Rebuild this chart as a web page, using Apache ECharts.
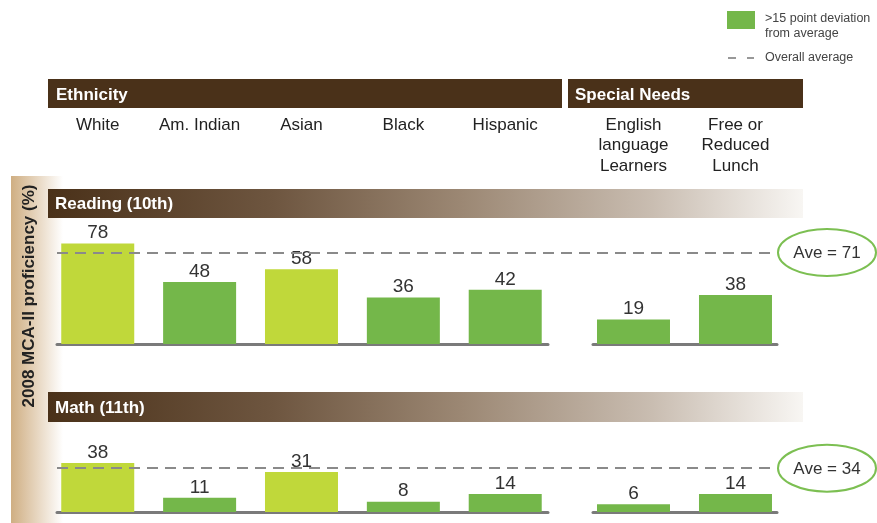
<!DOCTYPE html>
<html><head><meta charset="utf-8">
<script src="https://cdn.jsdelivr.net/npm/echarts@6/dist/echarts.min.js"></script>
<style>html,body{margin:0;padding:0;background:#fff}#c{width:877px;height:523px}</style>
</head><body><div id="c"></div>
<script>
const ethnicityCategories = ['White', 'Am. Indian', 'Asian', 'Black', 'Hispanic'];
const specialNeedsCategories = ['English\nlanguage\nLearners', 'Free or\nReduced\nLunch'];
const readingEthnicity = [78, 48, 58, 36, 42];
const readingSpecial = [19, 38];
const readingAverage = 71;
const mathEthnicity = [38, 11, 31, 8, 14];
const mathSpecial = [6, 14];
const mathAverage = 34;
const deviationThreshold = 15;

const GREEN = '#74b74a', LIME = '#c0d83a';
const FONT = '"Liberation Sans", Arial, sans-serif';

const chart = echarts.init(document.getElementById('c'), null, {renderer: 'canvas'});

const grids = [
  {left: 57, top: 215, width: 491, height: 129},
  {left: 593, top: 215, width: 184, height: 129},
  {left: 57, top: 383, width: 491, height: 129},
  {left: 593, top: 383, width: 184, height: 129},
  {left: 57, top: 215, width: 720, height: 129},
  {left: 57, top: 383, width: 720, height: 129}
];
const ethRange = {min: -0.4, max: 4.42};
const snRange = {min: -0.397, max: 1.407};

function baseX(grid, r) {
  return {type: 'value', gridIndex: grid, position: 'bottom', min: r.min, max: r.max,
    axisLine: {show: true, onZero: false, lineStyle: {color: '#7a7a7a', width: 3}},
    axisTick: {show: false}, axisLabel: {show: false}, splitLine: {show: false}};
}
function labelX(grid, r, cats) {
  return {type: 'value', gridIndex: grid, position: 'top', min: r.min, max: r.max,
    axisLine: {show: false}, axisTick: {show: false}, splitLine: {show: false},
    axisLabel: {show: true, customValues: cats.map((c, i) => i), formatter: v => cats[Math.round(v)],
      margin: 100, verticalAlign: 'top', fontFamily: FONT, fontSize: 17, lineHeight: 20.5, color: '#222'}};
}
function hiddenX(grid) {
  return {type: 'value', gridIndex: grid, min: 0, max: 1, show: false};
}
const xAxis = [baseX(0, ethRange), baseX(1, snRange), baseX(2, ethRange), baseX(3, snRange),
  labelX(0, ethRange, ethnicityCategories), labelX(1, snRange, specialNeedsCategories),
  hiddenX(4), hiddenX(5)];
const yAxis = grids.map((g, i) => ({type: 'value', gridIndex: i, min: 0, max: 100, show: false}));

function bars(xi, yi, vals, avg) {
  return {type: 'bar', xAxisIndex: xi, yAxisIndex: yi, barWidth: 73, z: 2,
    data: vals.map((v, i) => ({value: [i, v], itemStyle: {color: Math.abs(v - avg) > deviationThreshold ? GREEN : LIME}})),
    label: {show: true, position: 'top', distance: 1, formatter: p => p.value[1], fontFamily: FONT, fontSize: 19, color: '#333'}};
}
function avgLine(xi, yi, avg) {
  return {type: 'line', xAxisIndex: xi, yAxisIndex: yi, data: [], z: 5, silent: true,
    markLine: {silent: true, symbol: 'none', animation: false, label: {show: false},
      lineStyle: {type: [11, 7], color: '#8a8a8a', width: 2}, data: [{yAxis: avg}]}};
}

const gradHeader = {type: 'linear', x: 0, y: 0, x2: 1, y2: 0, colorStops: [
  {offset: 0, color: '#4a3119'}, {offset: 0.3, color: '#6e5640'}, {offset: 0.55, color: '#9c8874'},
  {offset: 0.8, color: '#c9bdb1'}, {offset: 1, color: '#f8f6f3'}]};
const gradStrip = {type: 'linear', x: 0, y: 0, x2: 1, y2: 0, colorStops: [
  {offset: 0, color: '#cfae82'}, {offset: 0.5, color: '#e7d6c0'}, {offset: 1, color: '#ffffff'}]};

const headerFont = {fontFamily: FONT, fontWeight: 'bold', fontSize: 17, fill: '#fff', verticalAlign: 'middle'};
const graphics = [
  {id: 'strip', type: 'rect', z: -1, shape: {x: 11, y: 176, width: 52, height: 347}, style: {fill: gradStrip}},
  {id: 'ytitle', type: 'text', x: 29, y: 296, rotation: Math.PI / 2,
    style: {text: '2008 MCA-II proficiency (%)', fontFamily: FONT, fontWeight: 'bold', fontSize: 17, fill: '#222', align: 'center', verticalAlign: 'middle'}},
  {id: 'hEth', type: 'rect', shape: {x: 48, y: 79, width: 514, height: 29}, style: {fill: '#4a3119'}},
  {id: 'hSN', type: 'rect', shape: {x: 568, y: 79, width: 235, height: 29}, style: {fill: '#4a3119'}},
  {id: 'tEth', type: 'text', x: 56, y: 95, style: Object.assign({text: 'Ethnicity'}, headerFont)},
  {id: 'tSN', type: 'text', x: 575, y: 95, style: Object.assign({text: 'Special Needs'}, headerFont)},
  {id: 'hR', type: 'rect', shape: {x: 48, y: 189, width: 755, height: 29}, style: {fill: gradHeader}},
  {id: 'hM', type: 'rect', shape: {x: 48, y: 392, width: 755, height: 30}, style: {fill: gradHeader}},
  {id: 'tR', type: 'text', x: 55, y: 204, style: Object.assign({text: 'Reading (10th)'}, headerFont)},
  {id: 'tM', type: 'text', x: 55, y: 408, style: Object.assign({text: 'Math (11th)'}, headerFont)},
  {id: 'lgBox', type: 'rect', shape: {x: 727, y: 11, width: 28, height: 18}, style: {fill: GREEN}},
  {id: 'lgT1', type: 'text', x: 765, y: 11, style: {text: '>15 point deviation\nfrom average', fontFamily: FONT, fontSize: 12.5, lineHeight: 15, fill: '#444', verticalAlign: 'top'}},
  {id: 'lgDash', type: 'line', shape: {x1: 728, y1: 58, x2: 754, y2: 58}, style: {stroke: '#777', lineWidth: 1.5, lineDash: [8, 11]}},
  {id: 'lgT2', type: 'text', x: 765, y: 58, style: {text: 'Overall average', fontFamily: FONT, fontSize: 12.5, fill: '#444', verticalAlign: 'middle'}}
];

chart.setOption({
  animation: false,
  grid: grids,
  xAxis: xAxis,
  yAxis: yAxis,
  series: [
    bars(0, 0, readingEthnicity, readingAverage),
    bars(1, 1, readingSpecial, readingAverage),
    bars(2, 2, mathEthnicity, mathAverage),
    bars(3, 3, mathSpecial, mathAverage),
    avgLine(6, 4, readingAverage),
    avgLine(7, 5, mathAverage)
  ],
  graphic: {elements: graphics}
});

function aveBadge(id, gridIndex, avg) {
  const p = chart.convertToPixel({gridIndex: gridIndex}, [1, avg]);
  const cx = p[0] + 50, cy = p[1];
  return [
    {id: id + 'E', type: 'ellipse', z: 10, shape: {cx: cx, cy: cy, rx: 49, ry: 23.5}, style: {fill: '#fff', stroke: '#7cbf52', lineWidth: 2}},
    {id: id + 'T', type: 'text', z: 11, x: cx, y: cy + 1, style: {text: 'Ave = ' + avg, fontFamily: FONT, fontSize: 17, fill: '#333', align: 'center', verticalAlign: 'middle'}}
  ];
}
chart.setOption({graphic: {elements: aveBadge('aveR', 4, readingAverage).concat(aveBadge('aveM', 5, mathAverage))}});
</script></body></html>
